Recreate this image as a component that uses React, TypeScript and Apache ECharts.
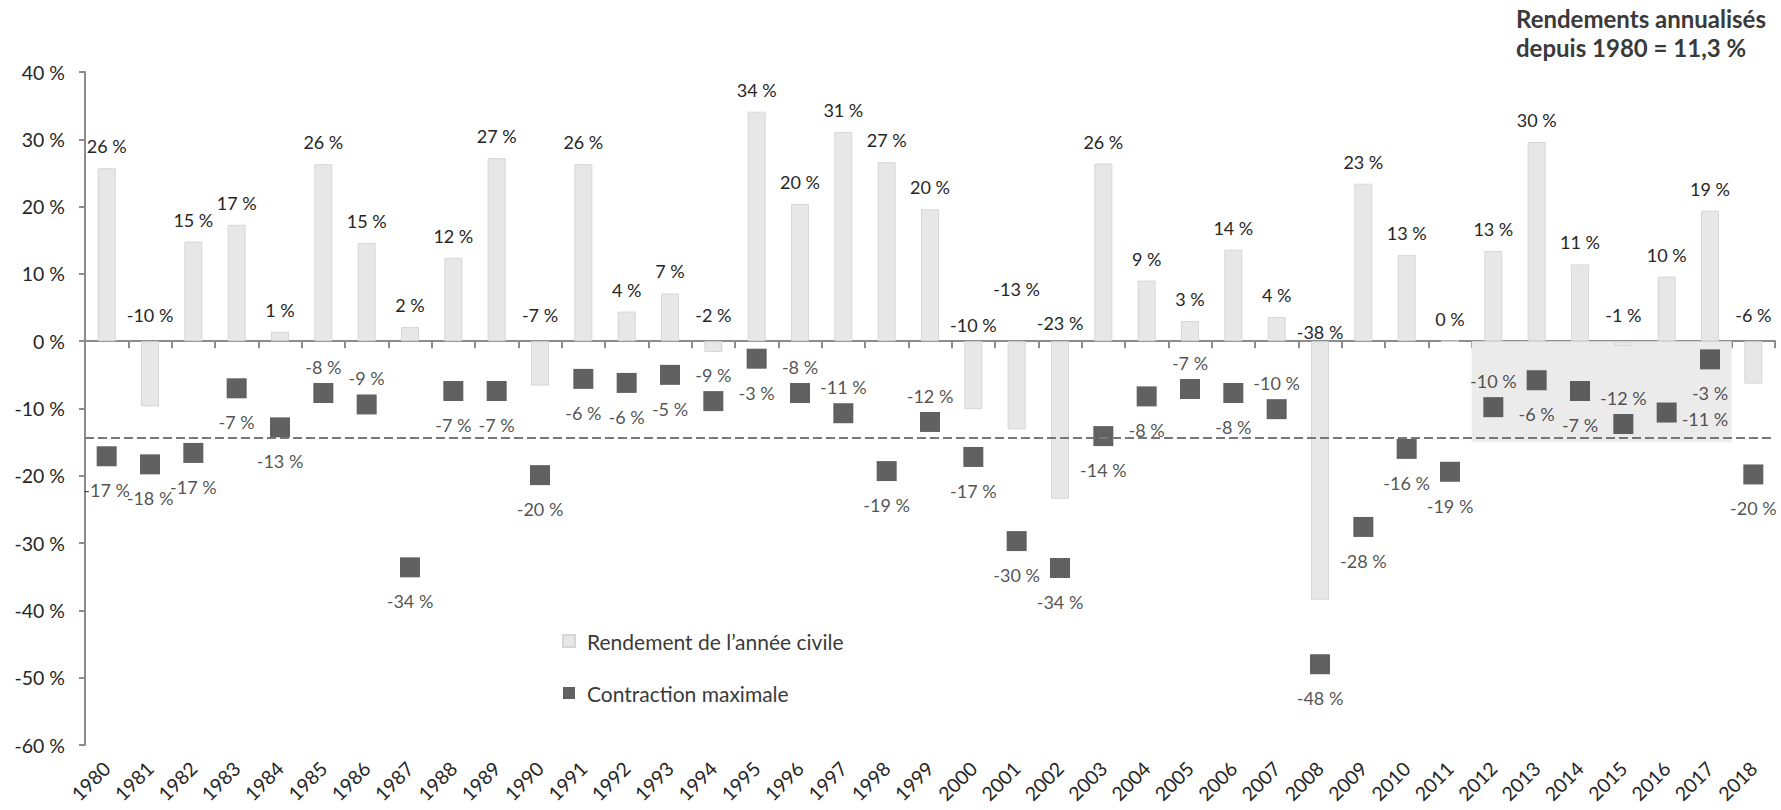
import React, { useEffect, useRef } from "react";
import * as echarts from "echarts";

const years = [
  "1980", "1981", "1982", "1983", "1984", "1985", "1986", "1987", "1988", "1989",
  "1990", "1991", "1992", "1993", "1994", "1995", "1996", "1997", "1998", "1999",
  "2000", "2001", "2002", "2003", "2004", "2005", "2006", "2007", "2008", "2009",
  "2010", "2011", "2012", "2013", "2014", "2015", "2016", "2017", "2018",
];

// Rendement de l'année civile (%)
const calendarReturns = [
  25.7, -9.7, 14.8, 17.3, 1.4, 26.3, 14.6, 2.1, 12.4, 27.2,
  -6.6, 26.3, 4.4, 7.1, -1.6, 34.1, 20.4, 31.1, 26.6, 19.6,
  -10.1, -13.1, -23.4, 26.4, 9.0, 3.0, 13.6, 3.6, -38.4, 23.4,
  12.8, 0, 13.4, 29.6, 11.4, -0.7, 9.6, 19.4, -6.3,
];

// Contraction maximale (%)
const maxDrawdowns = [
  -17.1, -18.3, -16.6, -7.0, -12.8, -7.7, -9.4, -33.6, -7.4, -7.4,
  -19.9, -5.6, -6.2, -5.0, -8.9, -2.6, -7.7, -10.7, -19.3, -12.0,
  -17.2, -29.7, -33.7, -14.1, -8.2, -7.1, -7.7, -10.1, -48.0, -27.6,
  -16.0, -19.4, -9.8, -5.8, -7.4, -12.3, -10.6, -2.7, -19.8,
];

const averageDrawdown = -14.3;
const shadedYears = ["2012", "2017"];
const shadedFloor = -15;
const yMin = -60;
const yMax = 40;
const yStep = 10;
const titleLines = ["Rendements annualisés", "depuis 1980 = 11,3 %"];
const seriesNames = ["Rendement de l’année civile", "Contraction maximale"];

// label styling tweaks (placement only)
const drawdownLabelAbove = ["1985", "1986", "1994", "1996", "1997", "1999", "2005", "2007", "2012", "2015"];
const drawdownLabelRight = ["2016"];
const returnLabelDistance: Record<string, number> = { "2000": 7, "2001": 43, "2002": 9, "2008": 0 };

const fmt = (v: number) => `${Math.round(v)} %`;

export default function App() {
  const ref = useRef<HTMLDivElement>(null);

  useEffect(() => {
    document.body.style.margin = "0";
    if (!ref.current) return;
    const chart = echarts.init(ref.current, undefined, { renderer: "svg" });
    const font = "Lato";
    const textColor = "#262626";
    const axisColor = "#8c8c8c";

    const barData = calendarReturns.map((v, i) => {
      const y = years[i];
      const d = returnLabelDistance[y] != null ? returnLabelDistance[y] : v < 0 ? 17 : 13;
      return { value: v, label: { distance: d } };
    });

    const scatterData = maxDrawdowns.map((v, i) => {
      const y = years[i];
      let pos = "bottom";
      let dist = 15;
      let offset = [0, 0];
      if (drawdownLabelAbove.includes(y)) {
        pos = "top";
        dist = 7;
      } else if (drawdownLabelRight.includes(y)) {
        pos = "right";
        dist = 5;
        offset = [0, 6];
      }
      return { value: [y, v], label: { position: pos, distance: dist, offset } };
    });

    const i0 = years.indexOf(shadedYears[0]);
    const i1 = years.indexOf(shadedYears[1]) + 1;

    const option: any = {
      animation: false,
      textStyle: { fontFamily: font },
      grid: { left: 85, right: 6, top: 72, bottom: 65, containLabel: false },
      legend: {
        data: [
          { name: seriesNames[0], icon: "rect" },
          { name: seriesNames[1], icon: "rect" },
        ],
        orient: "vertical",
        left: 557,
        top: 625,
        itemWidth: 12,
        itemHeight: 12,
        itemGap: 30,
        selectedMode: false,
        textStyle: { fontSize: 21, color: "#3a3a3a", fontFamily: font, padding: [0, 0, 0, 7], lineHeight: 22 },
      },
      xAxis: [
        {
          type: "category",
          data: years,
          position: "bottom",
          axisLine: { show: false, onZero: false },
          axisTick: { show: false },
          axisLabel: { rotate: 45, interval: 0, fontSize: 19.5, color: textColor, fontFamily: font, margin: 20 },
        },
        {
          type: "category",
          data: years,
          position: "bottom",
          axisLine: { show: true, onZero: true, lineStyle: { color: axisColor, width: 2 } },
          axisTick: { show: true, length: 7, interval: 0, lineStyle: { color: axisColor, width: 2 } },
          axisLabel: { show: false },
        },
        {
          type: "value",
          min: 0,
          max: years.length,
          show: false,
          axisLine: { onZero: false },
        },
      ],
      yAxis: {
        type: "value",
        min: yMin,
        max: yMax,
        interval: yStep,
        axisLine: { show: true, onZero: false, lineStyle: { color: axisColor, width: 2 } },
        axisTick: { show: true, length: 6, lineStyle: { color: axisColor, width: 2 } },
        splitLine: { show: false },
        axisLabel: { formatter: (v: number) => `${v} %`, fontSize: 19.5, color: textColor, fontFamily: font, margin: 20 },
      },
      graphic: [
        {
          type: "text",
          left: 1516,
          top: 4,
          style: {
            text: titleLines.join("\n"),
            font: `bold 24px ${font}`,
            fill: "#3a3a3a",
            lineHeight: 29,
          },
        },
      ],
      series: [
        {
          type: "line",
          xAxisIndex: 2,
          data: [],
          z: 1,
          silent: true,
          markArea: {
            silent: true,
            itemStyle: { color: "#ebebeb" },
            data: [[{ xAxis: i0, yAxis: 0 }, { xAxis: i1, yAxis: shadedFloor }]],
          },
        },
        {
          name: seriesNames[0],
          type: "bar",
          xAxisIndex: 0,
          barWidth: 18,
          z: 2,
          data: barData,
          itemStyle: { color: "#e7e7e7", borderColor: "#d6d6d6", borderWidth: 1 },
          label: {
            show: true,
            position: "top",
            formatter: (p: any) => fmt(p.value),
            fontSize: 18,
            color: textColor,
            fontFamily: font,
          },
        },
        {
          name: seriesNames[1],
          type: "scatter",
          xAxisIndex: 0,
          symbol: "rect",
          symbolSize: 20,
          z: 3,
          data: scatterData,
          itemStyle: { color: "#3a3a3a" },
          label: {
            show: true,
            formatter: (p: any) => fmt(p.value[1]),
            fontSize: 18,
            color: textColor,
            fontFamily: font,
          },
        },
        {
          type: "line",
          xAxisIndex: 2,
          data: [],
          z: 5,
          silent: true,
          markLine: {
            silent: true,
            symbol: ["none", "none"],
            label: { show: false },
            lineStyle: { type: [9, 4], color: "#777777", width: 2.2 },
            data: [{ yAxis: averageDrawdown }],
          },
        },
      ],
    };

    chart.setOption(option);
    return () => chart.dispose();
  }, []);

  return <div ref={ref} style={{ width: 1781, height: 810 }} />;
}
